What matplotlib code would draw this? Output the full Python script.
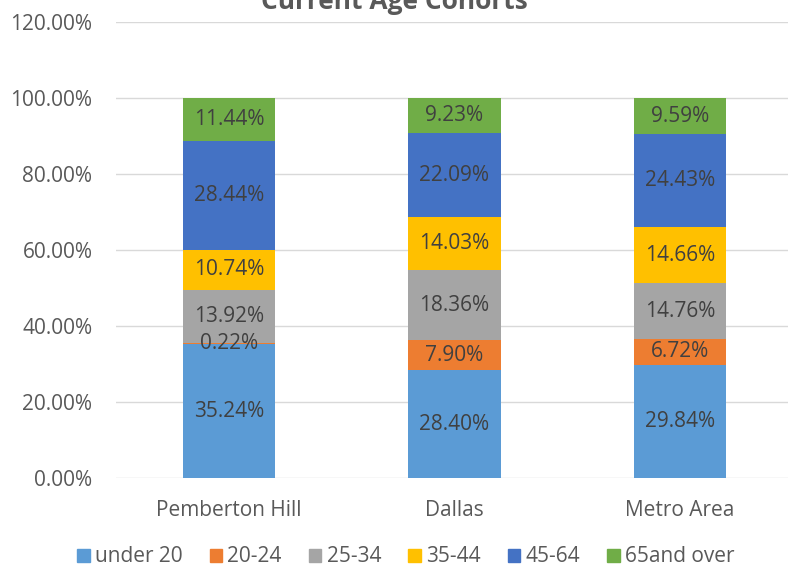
import numpy as np
import matplotlib.pyplot as plt
from matplotlib.patches import Patch

categories = ["Pemberton Hill", "Dallas", "Metro Area"]
series = ["under 20", "20-24", "25-34", "35-44", "45-64", "65and over"]
under20 = [35.24, 28.40, 29.84]
age20_24 = [0.22, 7.90, 6.72]
age25_34 = [13.92, 18.36, 14.76]
age35_44 = [10.74, 14.03, 14.66]
age45_64 = [28.44, 22.09, 24.43]
age65 = [11.44, 9.23, 9.59]
colors = ["#5B9BD5", "#ED7D31", "#A5A5A5", "#FFC000", "#4472C4", "#70AD47"]

plt.rcParams['font.family'] = ['Open Sans', 'DejaVu Sans']

fig = plt.figure(figsize=(7.88, 5.68), dpi=100)
ax = fig.add_axes([116 / 788, 90 / 568, 677 / 788, 456 / 568])

x = np.arange(len(categories))
bottom = np.zeros(len(categories))
for name, vals, c in zip(series, [under20, age20_24, age25_34, age35_44, age45_64, age65], colors):
    vals = np.array(vals)
    ax.bar(x, vals, 0.408, bottom=bottom, color=c, zorder=3)
    for xi, b, v in zip(x, bottom, vals):
        ax.text(xi, b + v / 2, f"{v:.2f}%", ha='center', va='center',
                fontsize=15, color='#404040', zorder=4)
    bottom += vals

ax.set_xlim(-0.5, 2.5)
ax.set_ylim(0, 120)
ax.set_yticks(np.arange(0, 121, 20))
ax.set_yticklabels([f"{t:.2f}%" for t in np.arange(0, 121, 20)])
ax.set_xticks(x)
ax.set_xticklabels(categories)
ax.tick_params(length=0, labelsize=15, labelcolor='#595959')
ax.tick_params(axis='y', pad=17)
ax.tick_params(axis='x', pad=16)
ax.grid(axis='y', color='#D9D9D9', lw=1, zorder=0)
for s in ax.spines.values():
    s.set_visible(False)

fig.text(0.5, 1 - 9 / 568, "Current Age Cohorts", ha='center', va='baseline',
         fontsize=19, fontweight='bold', color='#595959')

handles = [Patch(color=c, label=s) for s, c in zip(series, colors)]
fig.legend(handles=handles, loc='center', bbox_to_anchor=(0.515, 1 - 557 / 568), ncol=6,
           frameon=False, fontsize=15, handlelength=0.6, handleheight=0.6,
           handletextpad=0.25, columnspacing=1.3, labelcolor='#595959')

fig.savefig("out.png", dpi=100)
